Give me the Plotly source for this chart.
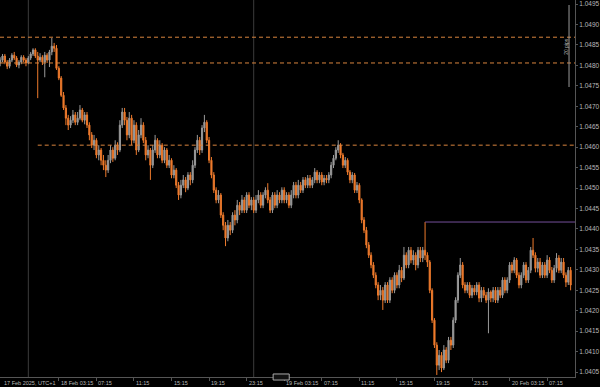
import pandas as pd
import plotly.graph_objects as go

start_time = "2025-02-17 21:00"
bar_freq = "15min"

open_ = [
1.04806, 1.04813, 1.04823, 1.04808, 1.04798, 1.04813, 1.04825, 1.04818, 1.04801, 1.04808,
1.04820, 1.04813, 1.04806, 1.04818, 1.04828, 1.04838, 1.04823, 1.04813, 1.04820, 1.04808,
1.04825, 1.04813, 1.04833, 1.04847, 1.04842, 1.04793, 1.04769, 1.04727, 1.04696, 1.04671,
1.04654, 1.04666, 1.04679, 1.04661, 1.04671, 1.04691, 1.04666, 1.04679, 1.04654, 1.04630,
1.04605, 1.04617, 1.04581, 1.04593, 1.04568, 1.04556, 1.04544, 1.04568, 1.04593, 1.04573,
1.04605, 1.04593, 1.04654, 1.04686, 1.04666, 1.04630, 1.04671, 1.04617, 1.04654, 1.04593,
1.04630, 1.04654, 1.04617, 1.04581, 1.04593, 1.04556, 1.04593, 1.04617, 1.04581, 1.04605,
1.04568, 1.04593, 1.04556, 1.04568, 1.04532, 1.04544, 1.04507, 1.04483, 1.04507, 1.04520,
1.04500, 1.04532, 1.04520, 1.04556, 1.04593, 1.04617, 1.04593, 1.04647, 1.04661, 1.04617,
1.04568, 1.04532, 1.04495, 1.04471, 1.04483, 1.04434, 1.04409, 1.04378, 1.04409, 1.04397,
1.04434, 1.04422, 1.04458, 1.04446, 1.04471, 1.04446, 1.04483, 1.04458, 1.04471, 1.04446,
1.04471, 1.04483, 1.04458, 1.04483, 1.04495, 1.04471, 1.04446, 1.04483, 1.04458, 1.04483,
1.04471, 1.04495, 1.04471, 1.04483, 1.04458, 1.04483, 1.04507, 1.04483, 1.04507, 1.04495,
1.04520, 1.04507, 1.04524, 1.04507, 1.04520, 1.04539, 1.04520, 1.04532, 1.04515, 1.04524,
1.04520, 1.04532, 1.04556, 1.04573, 1.04593, 1.04605, 1.04581, 1.04556, 1.04568, 1.04539,
1.04520, 1.04532, 1.04495, 1.04507, 1.04471, 1.04422, 1.04397, 1.04361, 1.04336, 1.04312,
1.04287, 1.04263, 1.04238, 1.04250, 1.04226, 1.04263, 1.04226, 1.04275, 1.04250, 1.04287,
1.04263, 1.04299, 1.04280, 1.04336, 1.04312, 1.04348, 1.04324, 1.04336, 1.04312, 1.04348,
1.04329, 1.04348, 1.04336, 1.04319, 1.04250, 1.04177, 1.04116, 1.04067, 1.04091, 1.04060,
1.04104, 1.04079, 1.04128, 1.04116, 1.04177, 1.04226, 1.04287, 1.04312, 1.04263, 1.04250,
1.04263, 1.04238, 1.04255, 1.04246, 1.04263, 1.04231, 1.04250, 1.04238, 1.04226, 1.04246,
1.04231, 1.04250, 1.04226, 1.04250, 1.04238, 1.04275, 1.04250, 1.04275, 1.04312, 1.04299,
1.04324, 1.04287, 1.04263, 1.04287, 1.04312, 1.04275, 1.04299, 1.04348, 1.04336, 1.04304,
1.04319, 1.04287, 1.04312, 1.04287, 1.04324, 1.04299, 1.04275, 1.04304, 1.04329, 1.04299,
1.04319, 1.04287, 1.04270, 1.04299]

high = [
1.04820, 1.04828, 1.04828, 1.04813, 1.04818, 1.04830, 1.04833, 1.04823, 1.04813, 1.04825,
1.04825, 1.04818, 1.04823, 1.04833, 1.04842, 1.04842, 1.04833, 1.04830, 1.04825, 1.04833,
1.04830, 1.04838, 1.04867, 1.04855, 1.04850, 1.04798, 1.04774, 1.04735, 1.04703, 1.04679,
1.04676, 1.04691, 1.04686, 1.04686, 1.04703, 1.04696, 1.04686, 1.04686, 1.04661, 1.04637,
1.04630, 1.04622, 1.04605, 1.04598, 1.04581, 1.04568, 1.04581, 1.04605, 1.04600, 1.04617,
1.04612, 1.04666, 1.04696, 1.04696, 1.04674, 1.04686, 1.04679, 1.04666, 1.04661, 1.04642,
1.04671, 1.04661, 1.04625, 1.04605, 1.04598, 1.04605, 1.04630, 1.04622, 1.04617, 1.04610,
1.04600, 1.04598, 1.04581, 1.04573, 1.04556, 1.04549, 1.04515, 1.04520, 1.04532, 1.04527,
1.04539, 1.04539, 1.04568, 1.04600, 1.04630, 1.04625, 1.04654, 1.04679, 1.04666, 1.04625,
1.04576, 1.04539, 1.04502, 1.04495, 1.04488, 1.04441, 1.04417, 1.04422, 1.04417, 1.04441,
1.04446, 1.04471, 1.04466, 1.04483, 1.04478, 1.04490, 1.04490, 1.04478, 1.04478, 1.04483,
1.04495, 1.04490, 1.04490, 1.04502, 1.04512, 1.04478, 1.04490, 1.04490, 1.04495, 1.04490,
1.04502, 1.04502, 1.04490, 1.04490, 1.04495, 1.04515, 1.04515, 1.04520, 1.04515, 1.04527,
1.04527, 1.04532, 1.04532, 1.04527, 1.04549, 1.04544, 1.04539, 1.04539, 1.04532, 1.04532,
1.04539, 1.04564, 1.04581, 1.04600, 1.04617, 1.04610, 1.04586, 1.04576, 1.04573, 1.04544,
1.04539, 1.04537, 1.04515, 1.04512, 1.04475, 1.04429, 1.04405, 1.04368, 1.04343, 1.04319,
1.04294, 1.04270, 1.04263, 1.04258, 1.04270, 1.04270, 1.04282, 1.04282, 1.04294, 1.04294,
1.04312, 1.04307, 1.04356, 1.04343, 1.04356, 1.04356, 1.04348, 1.04343, 1.04356, 1.04356,
1.04356, 1.04417, 1.04343, 1.04324, 1.04255, 1.04182, 1.04123, 1.04104, 1.04099, 1.04116,
1.04111, 1.04136, 1.04136, 1.04184, 1.04233, 1.04294, 1.04329, 1.04319, 1.04270, 1.04270,
1.04270, 1.04263, 1.04263, 1.04270, 1.04270, 1.04258, 1.04258, 1.04246, 1.04255, 1.04250,
1.04258, 1.04258, 1.04258, 1.04258, 1.04282, 1.04282, 1.04282, 1.04319, 1.04319, 1.04331,
1.04329, 1.04294, 1.04294, 1.04319, 1.04319, 1.04307, 1.04356, 1.04378, 1.04343, 1.04329,
1.04329, 1.04319, 1.04319, 1.04336, 1.04331, 1.04307, 1.04312, 1.04341, 1.04336, 1.04329,
1.04329, 1.04294, 1.04307, 1.04307]

low = [
1.04798, 1.04808, 1.04803, 1.04791, 1.04793, 1.04808, 1.04813, 1.04796, 1.04793, 1.04803,
1.04808, 1.04798, 1.04803, 1.04813, 1.04823, 1.04818, 1.04720, 1.04808, 1.04801, 1.04771,
1.04806, 1.04796, 1.04825, 1.04833, 1.04789, 1.04764, 1.04723, 1.04691, 1.04654, 1.04642,
1.04647, 1.04659, 1.04654, 1.04654, 1.04666, 1.04661, 1.04656, 1.04647, 1.04617, 1.04598,
1.04593, 1.04573, 1.04568, 1.04556, 1.04544, 1.04527, 1.04537, 1.04561, 1.04564, 1.04568,
1.04581, 1.04588, 1.04647, 1.04654, 1.04617, 1.04622, 1.04605, 1.04610, 1.04581, 1.04588,
1.04622, 1.04610, 1.04568, 1.04573, 1.04520, 1.04549, 1.04586, 1.04573, 1.04573, 1.04561,
1.04561, 1.04549, 1.04549, 1.04524, 1.04524, 1.04500, 1.04471, 1.04475, 1.04500, 1.04490,
1.04495, 1.04507, 1.04512, 1.04549, 1.04586, 1.04581, 1.04586, 1.04637, 1.04610, 1.04561,
1.04524, 1.04488, 1.04463, 1.04463, 1.04427, 1.04397, 1.04358, 1.04370, 1.04385, 1.04390,
1.04409, 1.04414, 1.04434, 1.04439, 1.04439, 1.04439, 1.04451, 1.04446, 1.04439, 1.04439,
1.04463, 1.04451, 1.04451, 1.04475, 1.04463, 1.04439, 1.04439, 1.04451, 1.04451, 1.04463,
1.04463, 1.04463, 1.04463, 1.04451, 1.04451, 1.04475, 1.04475, 1.04475, 1.04488, 1.04488,
1.04500, 1.04500, 1.04500, 1.04500, 1.04512, 1.04512, 1.04512, 1.04507, 1.04507, 1.04512,
1.04512, 1.04524, 1.04549, 1.04568, 1.04586, 1.04573, 1.04549, 1.04549, 1.04532, 1.04512,
1.04512, 1.04488, 1.04488, 1.04463, 1.04414, 1.04390, 1.04353, 1.04329, 1.04304, 1.04280,
1.04255, 1.04226, 1.04226, 1.04202, 1.04219, 1.04219, 1.04219, 1.04243, 1.04243, 1.04255,
1.04255, 1.04270, 1.04275, 1.04304, 1.04304, 1.04316, 1.04312, 1.04299, 1.04304, 1.04319,
1.04319, 1.04324, 1.04307, 1.04243, 1.04170, 1.04109, 1.04043, 1.04055, 1.04050, 1.04055,
1.04072, 1.04072, 1.04104, 1.04109, 1.04170, 1.04219, 1.04280, 1.04255, 1.04243, 1.04243,
1.04231, 1.04231, 1.04238, 1.04238, 1.04221, 1.04221, 1.04231, 1.04219, 1.04145, 1.04221,
1.04221, 1.04219, 1.04219, 1.04231, 1.04231, 1.04243, 1.04243, 1.04268, 1.04292, 1.04292,
1.04280, 1.04255, 1.04255, 1.04280, 1.04268, 1.04268, 1.04292, 1.04329, 1.04294, 1.04294,
1.04280, 1.04280, 1.04280, 1.04280, 1.04292, 1.04268, 1.04268, 1.04294, 1.04292, 1.04292,
1.04280, 1.04258, 1.04263, 1.04250]

close = [
1.04813, 1.04823, 1.04808, 1.04798, 1.04813, 1.04825, 1.04818, 1.04801, 1.04808, 1.04820,
1.04813, 1.04806, 1.04818, 1.04828, 1.04838, 1.04823, 1.04813, 1.04820, 1.04808, 1.04825,
1.04813, 1.04833, 1.04847, 1.04842, 1.04793, 1.04769, 1.04727, 1.04696, 1.04671, 1.04654,
1.04666, 1.04679, 1.04661, 1.04671, 1.04691, 1.04666, 1.04679, 1.04654, 1.04630, 1.04605,
1.04617, 1.04581, 1.04593, 1.04568, 1.04556, 1.04544, 1.04568, 1.04593, 1.04573, 1.04605,
1.04593, 1.04654, 1.04686, 1.04666, 1.04630, 1.04671, 1.04617, 1.04654, 1.04593, 1.04630,
1.04654, 1.04617, 1.04581, 1.04593, 1.04556, 1.04593, 1.04617, 1.04581, 1.04605, 1.04568,
1.04593, 1.04556, 1.04568, 1.04532, 1.04544, 1.04507, 1.04483, 1.04507, 1.04520, 1.04500,
1.04532, 1.04520, 1.04556, 1.04593, 1.04617, 1.04593, 1.04647, 1.04661, 1.04617, 1.04568,
1.04532, 1.04495, 1.04471, 1.04483, 1.04434, 1.04409, 1.04378, 1.04409, 1.04397, 1.04434,
1.04422, 1.04458, 1.04446, 1.04471, 1.04446, 1.04483, 1.04458, 1.04471, 1.04446, 1.04471,
1.04483, 1.04458, 1.04483, 1.04495, 1.04471, 1.04446, 1.04483, 1.04458, 1.04483, 1.04471,
1.04495, 1.04471, 1.04483, 1.04458, 1.04483, 1.04507, 1.04483, 1.04507, 1.04495, 1.04520,
1.04507, 1.04524, 1.04507, 1.04520, 1.04539, 1.04520, 1.04532, 1.04515, 1.04524, 1.04520,
1.04532, 1.04556, 1.04573, 1.04593, 1.04605, 1.04581, 1.04556, 1.04568, 1.04539, 1.04520,
1.04532, 1.04495, 1.04507, 1.04471, 1.04422, 1.04397, 1.04361, 1.04336, 1.04312, 1.04287,
1.04263, 1.04238, 1.04250, 1.04226, 1.04263, 1.04226, 1.04275, 1.04250, 1.04287, 1.04263,
1.04299, 1.04280, 1.04336, 1.04312, 1.04348, 1.04324, 1.04336, 1.04312, 1.04348, 1.04329,
1.04348, 1.04336, 1.04319, 1.04250, 1.04177, 1.04116, 1.04067, 1.04091, 1.04060, 1.04104,
1.04079, 1.04128, 1.04116, 1.04177, 1.04226, 1.04287, 1.04312, 1.04263, 1.04250, 1.04263,
1.04238, 1.04255, 1.04246, 1.04263, 1.04231, 1.04250, 1.04238, 1.04226, 1.04246, 1.04231,
1.04250, 1.04226, 1.04250, 1.04238, 1.04275, 1.04250, 1.04275, 1.04312, 1.04299, 1.04324,
1.04287, 1.04263, 1.04287, 1.04312, 1.04275, 1.04299, 1.04348, 1.04336, 1.04304, 1.04319,
1.04287, 1.04312, 1.04287, 1.04324, 1.04299, 1.04275, 1.04304, 1.04329, 1.04299, 1.04319,
1.04287, 1.04270, 1.04299, 1.04263]

# reference levels
dashed_levels = [1.04869, 1.04806, 1.04605]
dashed_starts = ["2025-02-17 20:59", "2025-02-17 20:59", "2025-02-18 01:00"]
purple_level = 1.04417
purple_start = "2025-02-19 18:15"
day_breaks = ["2025-02-18 00:00", "2025-02-19 00:00"]

x_range = ["2025-02-17 20:59", "2025-02-20 10:13"]
y_range = [1.04038, 1.04960]

x_tick_times = ["2025-02-18 03:15", "2025-02-18 07:15", "2025-02-18 11:15", "2025-02-18 15:15",
                "2025-02-18 19:15", "2025-02-18 23:15", "2025-02-19 03:15", "2025-02-19 07:15",
                "2025-02-19 11:15", "2025-02-19 15:15", "2025-02-19 19:15", "2025-02-19 23:15",
                "2025-02-20 03:15", "2025-02-20 07:15"]
x_tick_labels = ["18 Feb 03:15", "07:15", "11:15", "15:15", "19:15", "23:15", "19 Feb 03:15",
                 "07:15", "11:15", "15:15", "19:15", "23:15", "20 Feb 03:15", "07:15"]
first_label = "17 Feb 2025, UTC+1"

y_tick_vals = [1.0405, 1.0410, 1.0415, 1.0420, 1.0425, 1.0430, 1.0435, 1.0440, 1.0445, 1.0450,
               1.0455, 1.0460, 1.0465, 1.0470, 1.0475, 1.0480, 1.0485, 1.0490, 1.0495]

UP = "#9a9a9a"
DOWN = "#ee7a2c"
AX = "#555555"
TXT = "#b8b8b8"
FONT = "Liberation Sans"

times = pd.date_range(start_time, periods=len(close), freq=bar_freq)

fig = go.Figure()
fig.add_trace(go.Candlestick(
    x=times, open=open_, high=high, low=low, close=close,
    increasing=dict(line=dict(color=UP, width=1), fillcolor=UP),
    decreasing=dict(line=dict(color=DOWN, width=1), fillcolor=DOWN),
    whiskerwidth=0, showlegend=False, hoverinfo="skip"))

shapes = []
for d in day_breaks:
    shapes.append(dict(type="line", xref="x", yref="paper", x0=d, x1=d, y0=0, y1=1,
                       line=dict(color="#3c3c3c", width=1), layer="below"))
for lvl, st in zip(dashed_levels, dashed_starts):
    shapes.append(dict(type="line", xref="x", yref="y", x0=st, x1=x_range[1], y0=lvl, y1=lvl,
                       line=dict(color="#d9843e", width=1, dash="4px,3px")))
shapes.append(dict(type="line", xref="x", yref="y", x0=purple_start, x1=x_range[1],
                   y0=purple_level, y1=purple_level, line=dict(color="#74509a", width=1)))
# measuring bar top-right
shapes.append(dict(type="line", xref="paper", yref="paper", x0=0.9896, x1=0.9896,
                   y0=1 - 5 / 377, y1=1 - 87 / 377, line=dict(color="#9a9a9a", width=1)))
# small icon on the time axis
shapes.append(dict(type="rect", xref="paper", yref="paper", x0=0.475, x1=0.503,
                   y0=-0.008, y1=0.008, line=dict(color="#aaaaaa", width=1), fillcolor="#111111"))

annotations = [dict(x=t, y=0, xref="x", yref="paper", text=lab, showarrow=False,
                    xanchor="left", yanchor="top", xshift=0, yshift=-1,
                    font=dict(size=5.5, color=TXT, family=FONT))
               for t, lab in zip(x_tick_times, x_tick_labels)]
annotations.append(dict(x=0.004, y=0, xref="paper", yref="paper", text=first_label,
                        showarrow=False, xanchor="left", yanchor="top", yshift=-1,
                        font=dict(size=5.5, color=TXT, family=FONT)))
annotations.append(dict(x=0.984, y=1 - 46 / 377, xref="paper", yref="paper", text="20 pips",
                        showarrow=False, textangle=-90, xanchor="center", yanchor="middle",
                        font=dict(size=5, color=TXT, family=FONT)))

fig.update_layout(
    width=600, height=387,
    margin=dict(l=0, r=21, t=0, b=10),
    paper_bgcolor="#000000", plot_bgcolor="#000000",
    shapes=shapes, annotations=annotations,
    showlegend=False,
    xaxis=dict(type="date", range=x_range, rangeslider=dict(visible=False),
               showgrid=False, zeroline=False, showline=True, linecolor=AX, linewidth=1,
               tickvals=x_tick_times, ticks="outside", ticklen=3, tickcolor=AX,
               showticklabels=False, fixedrange=True),
    yaxis=dict(side="right", range=y_range, showgrid=False, zeroline=False,
               showline=True, linecolor=AX, linewidth=1,
               tickvals=y_tick_vals, tickformat=".4f", ticks="outside", ticklen=2,
               tickcolor=AX, tickfont=dict(size=6.5, color=TXT, family=FONT), fixedrange=True),
)

fig.write_html("out.html")
